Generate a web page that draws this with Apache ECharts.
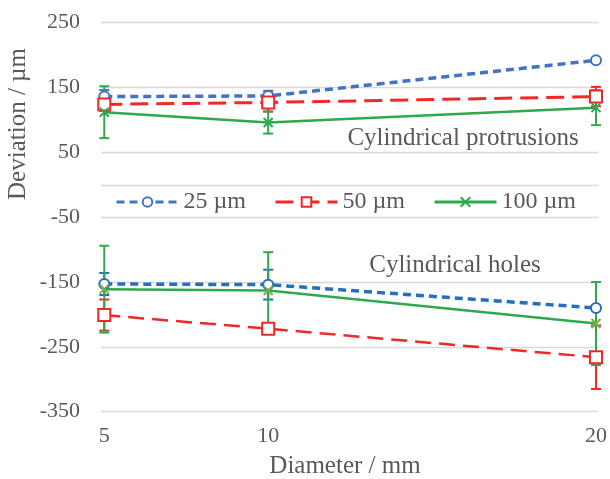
<!DOCTYPE html>
<html>
<head>
<meta charset="utf-8">
<script src="https://cdn.jsdelivr.net/npm/echarts@6/dist/echarts.min.js"></script>
<style>
  html, body { margin: 0; padding: 0; background: #fff; }
  #chart { width: 610px; height: 479px; }
</style>
</head>
<body>
<div id="chart"></div>
<script>
// diameter (mm) and deviation (µm)
const diameters = [5, 10, 20];
const xTicks = [5, 10, 20];
const yTicks = [-350, -250, -150, -50, 50, 150, 250];

const prot25 = [136, 137, 192];
const prot25Err = [10, 8, 3];
const prot50 = [124, 127, 136];
const prot50Err = [10, 14, 15];
const prot100 = [112, 96, 119];
const prot100Err = [40, 17, 27];

const holes25 = [-153, -154, -190];
const holes25Err = [17, 23, 4];
const holes50 = [-201, -222, -266];
const holes50Err = [24, 4, 49];
const holes100 = [-161, -163, -214];
const holes100Err = [67, 59, 64];

const FONT = '"Liberation Serif", "Times New Roman", serif';
const GREY = '#595959';
const GRID = '#D9D9D9';

const pts = (vals) => diameters.map((d, i) => [d, vals[i]]);
const bars = (vals, err) => diameters.map((d, i) => [d, vals[i] - err[i], vals[i] + err[i]]);

const xMark = 'path://M0,0L10,10M10,0L0,10';

function lineSeries(name, vals, color, width, dash, symbol, size, markColor) {
  return {
    name: name,
    type: 'line',
    data: pts(vals),
    symbol: symbol,
    symbolSize: size,
    showAllSymbol: true,
    z: 3,
    lineStyle: { color: color, width: width, type: dash },
    itemStyle: { color: markColor || color, borderColor: markColor || color, borderWidth: 2 },
  };
}

function errSeries(name, vals, err, color) {
  return {
    name: name,
    type: 'custom',
    z: 2,
    silent: true,
    data: bars(vals, err),
    encode: { x: 0, y: [1, 2] },
    renderItem: function (params, api) {
      const x = api.value(0);
      const lo = api.coord([x, api.value(1)]);
      const hi = api.coord([x, api.value(2)]);
      const hw = 5;
      const st = { stroke: color, lineWidth: 2 };
      return {
        type: 'group',
        children: [
          { type: 'line', shape: { x1: lo[0], y1: lo[1], x2: hi[0], y2: hi[1] }, style: st },
          { type: 'line', shape: { x1: lo[0] - hw, y1: lo[1], x2: lo[0] + hw, y2: lo[1] }, style: st },
          { type: 'line', shape: { x1: hi[0] - hw, y1: hi[1], x2: hi[0] + hw, y2: hi[1] }, style: st },
        ],
      };
    },
  };
}

const BLUE = '#4472C4';
const BLUE2 = '#2470C0';
const RED = '#F02828';
const GREEN = '#2FA84F';

const s25 = lineSeries('25 µm', prot25, BLUE, 3.5, [8, 5], 'emptyCircle', 10);
s25.markLine = {
  silent: true,
  symbol: 'none',
  label: { show: false },
  lineStyle: { color: GRID, type: 'solid', width: 1.3 },
  data: [{ yAxis: 0 }],
};

const option = {
  animation: false,
  backgroundColor: '#fff',
  grid: { left: 101, right: 8, top: 22.7, bottom: 67.3 },
  legend: {
    data: ['25 µm', '50 µm', '100 µm'],
    left: 115,
    top: 190,
    padding: 0,
    itemGap: 28,
    itemWidth: 62,
    itemHeight: 12,
    lineStyle: { width: 3 },
    textStyle: { fontFamily: FONT, fontSize: 24, color: GREY, lineHeight: 24 },
  },
  xAxis: {
    type: 'value',
    min: 4.9,
    max: 20.07,
    axisLine: { show: false },
    axisTick: { show: false },
    splitLine: { show: false },
    axisLabel: {
      customValues: xTicks,
      fontFamily: FONT,
      fontSize: 22,
      color: GREY,
      margin: 14,
    },
  },
  yAxis: {
    type: 'value',
    min: -350,
    max: 250,
    interval: 100,
    axisLine: { show: false },
    axisTick: { show: false },
    splitLine: { lineStyle: { color: GRID, width: 1.3 } },
    axisLabel: {
      customValues: yTicks,
      fontFamily: FONT,
      fontSize: 22,
      color: GREY,
      margin: 21,
    },
  },
  graphic: [
    {
      type: 'text', x: 18, y: 124, rotation: Math.PI / 2,
      style: { text: 'Deviation / µm', font: '25px ' + FONT, fill: GREY, align: 'center', verticalAlign: 'middle' },
    },
    {
      type: 'text', x: 345, y: 466,
      style: { text: 'Diameter / mm', font: '25px ' + FONT, fill: GREY, align: 'center', verticalAlign: 'middle' },
    },
    {
      type: 'text', x: 463, y: 138,
      style: { text: 'Cylindrical protrusions', font: '25px ' + FONT, fill: GREY, align: 'center', verticalAlign: 'middle' },
    },
    {
      type: 'text', x: 455, y: 265,
      style: { text: 'Cylindrical holes', font: '25px ' + FONT, fill: GREY, align: 'center', verticalAlign: 'middle' },
    },
  ],
  series: [
    s25,
    lineSeries('50 µm', prot50, RED, 3, [18, 8], 'emptyRect', 12),
    lineSeries('100 µm', prot100, GREEN, 2.5, 'solid', xMark, 9),
    lineSeries('25 µm', holes25, BLUE2, 3.5, [8, 5], 'emptyCircle', 10),
    lineSeries('50 µm', holes50, RED, 2.5, [16, 8], 'emptyRect', 12),
    lineSeries('100 µm', holes100, GREEN, 2.5, 'solid', xMark, 9, '#7AAE4A'),
    errSeries('25 µm', prot25, prot25Err, BLUE),
    errSeries('50 µm', prot50, prot50Err, RED),
    errSeries('100 µm', prot100, prot100Err, GREEN),
    errSeries('25 µm', holes25, holes25Err, BLUE2),
    errSeries('50 µm', holes50, holes50Err, RED),
    errSeries('100 µm', holes100, holes100Err, GREEN),
  ],
};

const myChart = echarts.init(document.getElementById('chart'));
option && myChart.setOption(option);
</script>
</body>
</html>
